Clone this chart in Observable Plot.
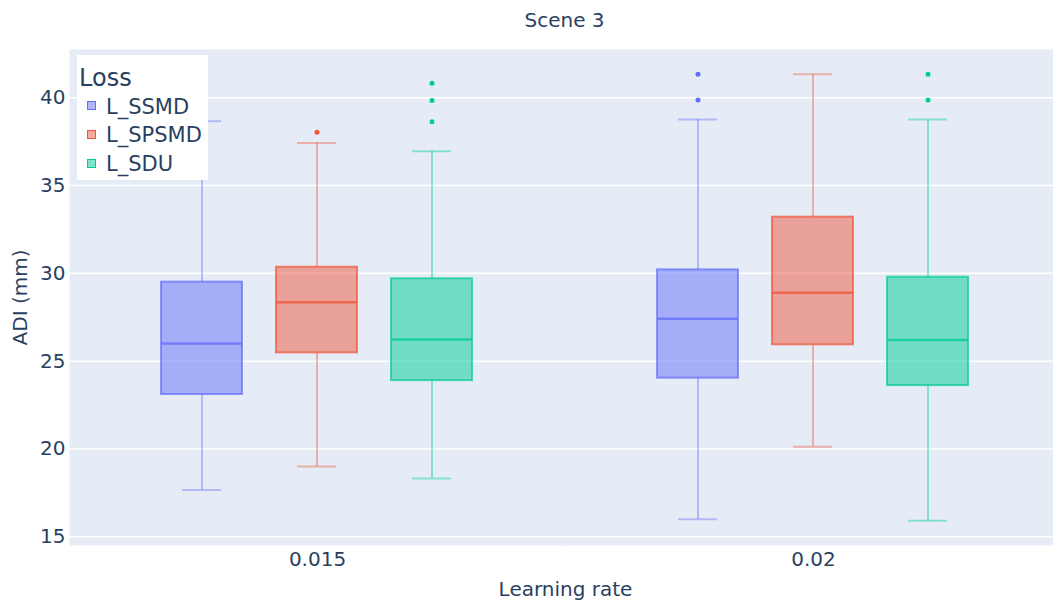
<!DOCTYPE html>
<html><head><meta charset="utf-8">
<script src="https://cdn.jsdelivr.net/npm/d3@7"></script>
<script src="https://cdn.jsdelivr.net/npm/@observablehq/plot@0.6"></script>
<style>
body{margin:0;background:#fff;}
#wrap{position:relative;width:1053px;height:603px;overflow:hidden;font-family:"DejaVu Sans",Verdana,sans-serif;color:#2a3f5f;}
#wrap svg{max-width:none !important;display:block;}
#title{position:absolute;left:0;width:1129px;top:8px;text-align:center;font-size:20px;line-height:normal;}
#legend{position:absolute;left:77px;top:55px;width:131px;height:125px;background:#fff;}
#legend .lt{position:absolute;left:2px;top:9px;font-size:24px;line-height:normal;}
#legend .it{position:absolute;left:29px;font-size:21px;line-height:normal;}
#legend .sw{position:absolute;left:10px;width:7px;height:7px;border:1.5px solid;}
</style></head>
<body>
<div id="wrap"><div id="title">Scene 3</div></div>
<script>
const rates = ["0.015", "0.02"];
const losses = ["L_SSMD", "L_SPSMD", "L_SDU"];
const colors = ["#636EFA", "#EF553B", "#00CC96"];
// values indexed [rate][loss]
const q1 = [[23.1, 25.47, 23.89], [24.03, 25.93, 23.61]];
const median = [[26.0, 28.36, 26.23], [27.41, 28.89, 26.21]];
const q3 = [[29.5, 30.35, 29.69], [30.2, 33.2, 29.78]];
const lowerFence = [[17.66, 19.0, 18.32], [15.99, 20.13, 15.91]];
const upperFence = [[38.66, 37.42, 36.95], [38.77, 41.34, 38.77]];
const outliers = [[[], [38.03], [38.64, 39.84, 40.83]], [[39.88, 41.34], [], [39.88, 41.34]]];
const yTicks = [15, 20, 25, 30, 35, 40];

const rows = [];
const outRows = [];
rates.forEach((r, i) => losses.forEach((l, j) => {
  rows.push({rate: r, loss: l, q1: q1[i][j], med: median[i][j], q3: q3[i][j], lo: lowerFence[i][j], hi: upperFence[i][j]});
  outliers[i][j].forEach(v => outRows.push({rate: r, loss: l, v}));
}));

const chart = Plot.plot({
  width: 1061, height: 603,
  marginLeft: 68, marginRight: 0, marginTop: 49, marginBottom: 58,
  style: {fontFamily: "'DejaVu Sans', Verdana, sans-serif", fontSize: "20px", color: "#2a3f5f", background: "white"},
  fx: {domain: rates, padding: 0, axis: "bottom", label: "Learning rate", labelAnchor: "center", labelOffset: 50, labelArrow: false, tickSize: 0, tickPadding: 6},
  x: {domain: losses, axis: null, paddingInner: 0.2916, paddingOuter: 0.7905},
  y: {domain: [14.5, 42.75], ticks: yTicks, tickSize: 0, tickPadding: 4, label: "ADI (mm)", labelAnchor: "center", labelOffset: 57, labelArrow: false},
  color: {domain: losses, range: colors},
  marks: [
    Plot.frame({fill: "#E5ECF6", stroke: null, insetRight: -2}),
    Plot.gridY(yTicks, {stroke: "white", strokeOpacity: 1, strokeWidth: 1.5}),
    Plot.ruleX(rows, {fx: "rate", x: "loss", y1: "lo", y2: "q1", stroke: "loss", strokeWidth: 2, strokeOpacity: 0.4}),
    Plot.ruleX(rows, {fx: "rate", x: "loss", y1: "q3", y2: "hi", stroke: "loss", strokeWidth: 2, strokeOpacity: 0.4}),
    Plot.tickY(rows, {fx: "rate", x: "loss", y: "lo", stroke: "loss", strokeWidth: 2, strokeOpacity: 0.4, insetLeft: 21, insetRight: 21}),
    Plot.tickY(rows, {fx: "rate", x: "loss", y: "hi", stroke: "loss", strokeWidth: 2, strokeOpacity: 0.4, insetLeft: 21, insetRight: 21}),
    Plot.barY(rows, {fx: "rate", x: "loss", y1: "q1", y2: "q3", fill: "loss", fillOpacity: 0.5, stroke: "loss", strokeWidth: 2, strokeOpacity: 0.7}),
    Plot.tickY(rows, {fx: "rate", x: "loss", y: "med", stroke: "loss", strokeWidth: 2.5, strokeOpacity: 0.75}),
    Plot.dot(outRows, {fx: "rate", x: "loss", y: "v", fill: "loss", r: 2.5, stroke: null})
  ]
});
const wrap = document.getElementById("wrap");
wrap.insertBefore(chart, wrap.firstChild);

const legend = document.createElement("div");
legend.id = "legend";
const lt = document.createElement("div");
lt.className = "lt"; lt.textContent = "Loss";
legend.appendChild(lt);
losses.forEach((l, i) => {
  const it = document.createElement("div");
  it.className = "it"; it.textContent = l; it.style.top = (39.5 + i * 28.8) + "px";
  legend.appendChild(it);
  const sw = document.createElement("div");
  sw.className = "sw"; sw.style.top = (46 + i * 28.8) + "px";
  sw.style.borderColor = colors[i];
  sw.style.background = d3.color(colors[i]).copy({opacity: 0.5}).formatRgb();
  legend.appendChild(sw);
});
wrap.appendChild(legend);
</script>
</body></html>
